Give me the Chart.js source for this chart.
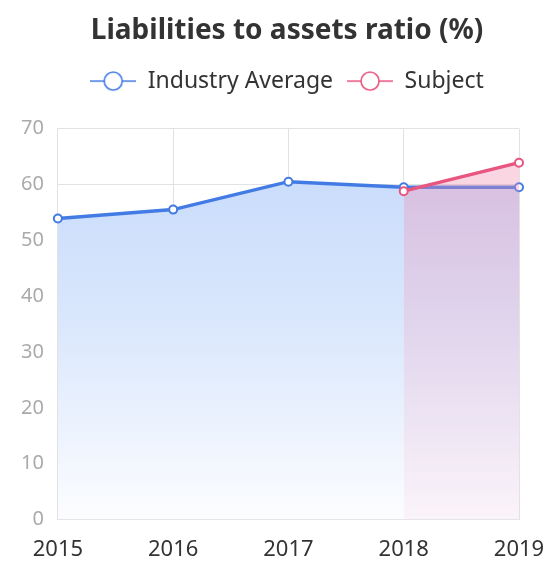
<!DOCTYPE html>
<html lang="en">
<head>
  <meta charset="UTF-8">
  <title>Liabilities to assets ratio</title>
  <script src="https://cdn.jsdelivr.net/npm/chart.js"></script>
  <style>
    body { margin: 0; background: #fff; }
    #wrap { width: 554px; height: 562px; }
  </style>
</head>
<body>
<div id="wrap"><canvas id="grafico"></canvas></div>

<script>
  // data
  const years = ['2015', '2016', '2017', '2018', '2019'];
  const industryAvg = [53.9, 55.5, 60.5, 59.5, 59.5];
  const subject = [null, null, null, 58.8, 63.9];
  const yTicks = [0, 10, 20, 30, 40, 50, 60, 70];

  const blue = '#437be4';
  const pink = '#e8557f';
  const fontFam = '"Noto Sans", "Open Sans", sans-serif';

  // legend marker: line with hollow circle
  function marker(color) {
    const c = document.createElement('canvas');
    c.width = 46; c.height = 22;
    const g = c.getContext('2d');
    g.strokeStyle = color;
    g.lineWidth = 1.6;
    g.beginPath(); g.moveTo(0, 11); g.lineTo(46, 11); g.stroke();
    g.beginPath(); g.arc(23, 11, 9, 0, Math.PI * 2);
    g.fillStyle = '#fff'; g.fill(); g.stroke();
    return c;
  }

  // extra room under the legend, and title/legend centred over the plot
  const headerTweak = {
    id: 'headerTweak',
    beforeInit(chart) {
      const fit = chart.legend.fit;
      chart.legend.fit = function() {
        fit.bind(chart.legend)();
        this.height += 26;
      };
    },
    afterLayout(chart) {
      const shift = 24;
      [chart.titleBlock, chart.legend].forEach(function(b) {
        if (b) { b.left += shift; b.right += shift; }
      });
    }
  };

  const ctx = document.getElementById('grafico').getContext('2d');

  function blueFill(context) {
    const area = context.chart.chartArea;
    if (!area) return 'rgba(200,220,250,0.8)';
    const gr = context.chart.ctx.createLinearGradient(0, area.top, 0, area.bottom);
    gr.addColorStop(0, 'rgba(196,217,251,1)');
    gr.addColorStop(0.5, 'rgba(218,231,252,1)');
    gr.addColorStop(1, 'rgba(252,253,255,1)');
    return gr;
  }
  function pinkFill(context) {
    const area = context.chart.chartArea;
    if (!area) return 'rgba(240,150,180,0.4)';
    const gr = context.chart.ctx.createLinearGradient(0, area.top, 0, area.bottom);
    gr.addColorStop(0, 'rgba(240,130,170,0.38)');
    gr.addColorStop(1, 'rgba(245,190,215,0.15)');
    return gr;
  }

  new Chart(ctx, {
    type: 'line',
    data: {
      labels: years,
      datasets: [{
        label: 'Industry Average',
        data: industryAvg,
        borderColor: blue,
        borderWidth: 3.5,
        backgroundColor: blueFill,
        fill: 'origin',
        tension: 0,
        pointRadius: 4,
        pointBorderWidth: 2,
        pointBackgroundColor: '#fff',
        pointBorderColor: blue,
        order: 1
      }, {
        label: 'Subject',
        data: subject,
        borderColor: pink,
        borderWidth: 3.5,
        backgroundColor: pinkFill,
        fill: 'origin',
        tension: 0,
        pointRadius: 4,
        pointBorderWidth: 2,
        pointBackgroundColor: '#fff',
        pointBorderColor: pink,
        order: 0
      }]
    },
    options: {
      responsive: true,
      maintainAspectRatio: false,
      animation: false,
      layout: { padding: { left: 7, right: 35, top: 2, bottom: -18 } },
      plugins: {
        title: {
          display: true,
          text: 'Liabilities to assets ratio (%)',
          color: '#333',
          font: { family: fontFam, size: 28, weight: 'bold' },
          padding: { top: 12, bottom: 8 }
        },
        legend: {
          labels: {
            usePointStyle: true,
            pointStyleWidth: 46,
            color: '#333',
            padding: 14,
            font: { family: fontFam, size: 23 },
            generateLabels: function(chart) {
              return chart.data.datasets.map(function(ds, i) {
                return {
                  text: ds.label,
                  pointStyle: marker(ds.borderColor),
                  fillStyle: '#fff',
                  strokeStyle: ds.borderColor,
                  lineWidth: 0,
                  fontColor: '#333',
                  hidden: !chart.isDatasetVisible(i),
                  datasetIndex: i
                };
              });
            }
          }
        },
        tooltip: { enabled: false }
      },
      scales: {
        x: {
          offset: false,
          afterFit: function(scale) { scale.paddingRight = 0; },
          grid: { color: '#e2e2e2', drawTicks: false },
          border: { color: '#e2e2e2' },
          ticks: { color: '#333', padding: 17, font: { family: fontFam, size: 22 } }
        },
        y: {
          min: 0,
          max: 70,
          afterBuildTicks: function(axis) {
            axis.ticks = yTicks.map(function(v) { return { value: v }; });
          },
          grid: { color: '#e2e2e2', drawTicks: false },
          border: { color: '#e2e2e2' },
          ticks: { color: '#aaa', padding: 14, font: { family: fontFam, size: 20 } }
        }
      }
    },
    plugins: [headerTweak]
  });
</script>

</body>
</html>
